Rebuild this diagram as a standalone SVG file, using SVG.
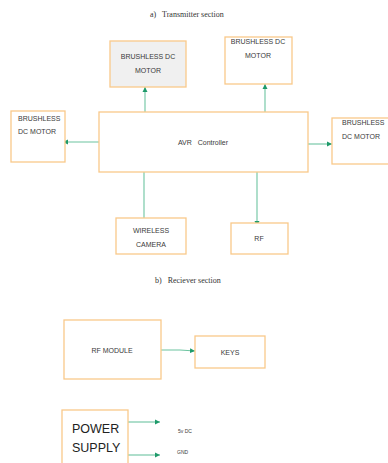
<svg xmlns="http://www.w3.org/2000/svg" width="388" height="463" viewBox="0 0 388 463">
<defs>
<marker id="ah" markerWidth="6" markerHeight="6" refX="5" refY="3" orient="auto" markerUnits="userSpaceOnUse">
<path d="M0,0.5 L5,3 L0,5.5 Z" fill="#1e9a6a"/>
</marker>
<style>
.box{fill:#fff;stroke:#f9c98a;stroke-width:1.3}
.gray{fill:#f0f0f0}
.t{font-family:"Liberation Sans",Arial,sans-serif;font-size:7px;fill:#3a3a3a;white-space:pre}
.c{text-anchor:middle}
.cap{font-family:"Liberation Serif","Times New Roman",serif;font-size:8px;fill:#333;white-space:pre}
.ln{stroke:#6cc4a0;stroke-width:1.1;fill:none}
.ar{marker-end:url(#ah)}
</style>
</defs>
<rect width="388" height="463" fill="#fff"/>
<text class="cap" x="150" y="17">a)   Transmitter section</text>
<text class="cap" x="155" y="283">b)   Reciever section</text>
<g id="connectors">
<line class="ln ar" x1="145" y1="112" x2="145" y2="87"/>
<line class="ln ar" x1="265" y1="112" x2="265" y2="84"/>
<line class="ln ar" x1="99" y1="142" x2="63" y2="142"/>
<line class="ln ar" x1="306" y1="144" x2="332" y2="144"/>
<line class="ln ar" x1="144" y1="172" x2="144" y2="224"/>
<line class="ln ar" x1="257" y1="172" x2="257" y2="226"/>
<polyline class="ln ar" points="161,350 180,350 195,351"/>
<line class="ln ar" x1="128" y1="422" x2="160" y2="422"/>
<line class="ln ar" x1="128" y1="455" x2="160" y2="455"/>
</g>
<g id="motor-top-left">
<rect class="box gray" x="110" y="41" width="76" height="46"/>
<text class="t c" x="148" y="59">BRUSHLESS DC</text>
<text class="t c" x="148" y="73">MOTOR</text>
</g>
<g id="motor-top-right">
<rect class="box" x="225" y="37" width="67" height="47"/>
<text class="t c" x="258" y="44">BRUSHLESS DC</text>
<text class="t c" x="258" y="58">MOTOR</text>
</g>
<g id="avr">
<rect class="box" x="99" y="112" width="209" height="60"/>
<text class="t c" x="203" y="145">AVR   Controller</text>
</g>
<g id="motor-left">
<rect class="box" x="11" y="111" width="54" height="51"/>
<text class="t" x="18" y="121">BRUSHLESS</text>
<text class="t" x="18" y="134">DC MOTOR</text>
</g>
<g id="motor-right">
<rect class="box" x="332" y="118" width="60" height="46"/>
<text class="t" x="342" y="125">BRUSHLESS</text>
<text class="t" x="342" y="139">DC MOTOR</text>
</g>
<g id="camera">
<rect class="box" x="116" y="218" width="70" height="36"/>
<text class="t c" x="151" y="233">WIRELESS</text>
<text class="t c" x="151" y="247">CAMERA</text>
</g>
<g id="rf">
<rect class="box" x="231" y="223" width="57" height="31"/>
<text class="t c" x="259" y="241">RF</text>
</g>
<g id="rf-module">
<rect class="box" x="64" y="320" width="97" height="59"/>
<text class="t c" x="112" y="353">RF MODULE</text>
</g>
<g id="keys">
<rect class="box" x="195" y="336" width="70" height="32"/>
<text class="t c" x="230" y="355">KEYS</text>
</g>
<g id="power">
<rect class="box" x="62" y="410" width="66" height="60"/>
<text class="t" style="font-size:12.5px;fill:#222" x="72" y="433">POWER</text>
<text class="t" style="font-size:12.5px;fill:#222" x="72" y="452">SUPPLY</text>
</g>
<text class="t" style="font-size:5px" x="178" y="433">5v DC</text>
<text class="t" style="font-size:5px" x="177" y="454">GND</text>
</svg>
